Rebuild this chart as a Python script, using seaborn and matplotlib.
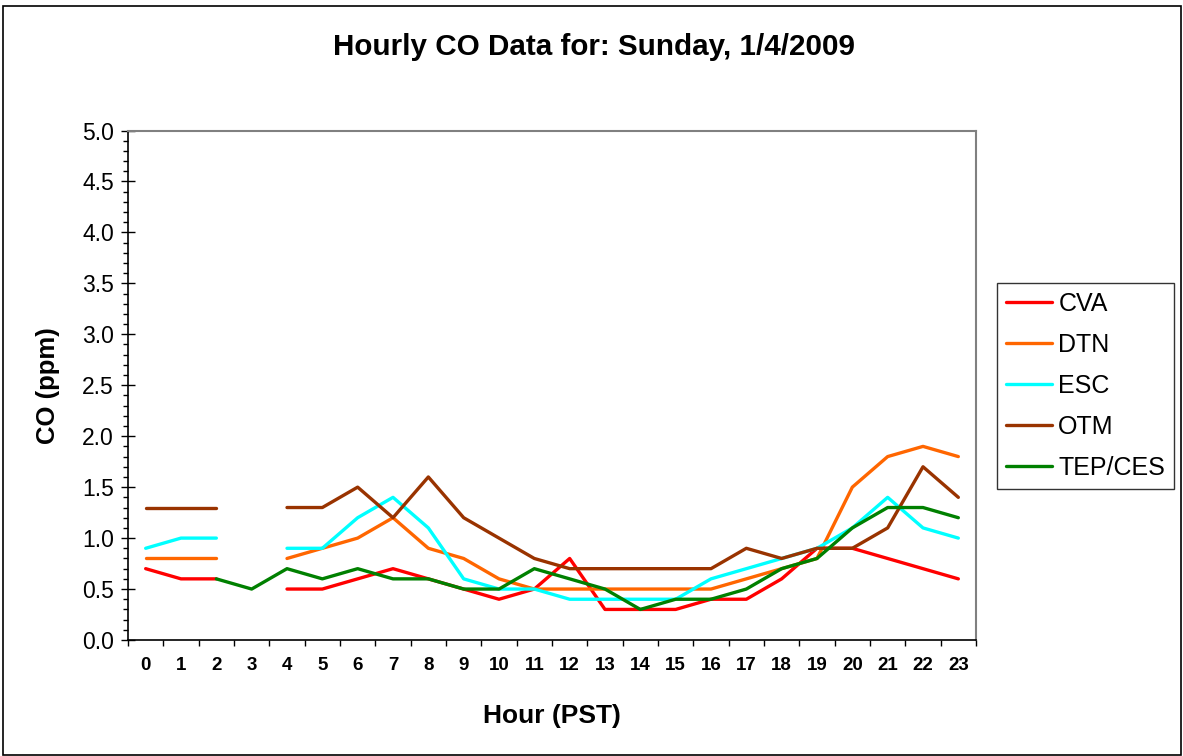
import numpy as np
import pandas as pd
import matplotlib
matplotlib.use("Agg")
import matplotlib.pyplot as plt
from matplotlib.lines import Line2D
from matplotlib.patches import Rectangle
from matplotlib.ticker import MultipleLocator, FixedLocator
import seaborn as sns

# Hourly CO concentrations (ppm); NaN marks a missing hour
hours = list(range(24))
nan = np.nan
cva = [0.7, 0.6, 0.6, nan, 0.5, 0.5, 0.6, 0.7, 0.6, 0.5, 0.4, 0.5,
       0.8, 0.3, 0.3, 0.3, 0.4, 0.4, 0.6, 0.9, 0.9, 0.8, 0.7, 0.6]
dtn = [0.8, 0.8, 0.8, nan, 0.8, 0.9, 1.0, 1.2, 0.9, 0.8, 0.6, 0.5,
       0.5, 0.5, 0.5, 0.5, 0.5, 0.6, 0.7, 0.8, 1.5, 1.8, 1.9, 1.8]
esc = [0.9, 1.0, 1.0, nan, 0.9, 0.9, 1.2, 1.4, 1.1, 0.6, 0.5, 0.5,
       0.4, 0.4, 0.4, 0.4, 0.6, 0.7, 0.8, 0.9, 1.1, 1.4, 1.1, 1.0]
otm = [1.3, 1.3, 1.3, nan, 1.3, 1.3, 1.5, 1.2, 1.6, 1.2, 1.0, 0.8,
       0.7, 0.7, 0.7, 0.7, 0.7, 0.9, 0.8, 0.9, 0.9, 1.1, 1.7, 1.4]
tep = [nan, nan, 0.6, 0.5, 0.7, 0.6, 0.7, 0.6, 0.6, 0.5, 0.5, 0.7,
       0.6, 0.5, 0.3, 0.4, 0.4, 0.5, 0.7, 0.8, 1.1, 1.3, 1.3, 1.2]

stations = ["CVA", "DTN", "ESC", "OTM", "TEP/CES"]
series = [cva, dtn, esc, otm, tep]
colors = ["#FF0000", "#FF6600", "#00FFFF", "#993300", "#008000"]

sns.set_style("white")
plt.rcParams["font.family"] = ["Liberation Sans", "DejaVu Sans"]
plt.rcParams["text.color"] = "black"
plt.rcParams["axes.labelcolor"] = "black"
plt.rcParams["xtick.color"] = "black"
plt.rcParams["ytick.color"] = "black"

fig = plt.figure(figsize=(11.83, 7.56), dpi=100)
ax = fig.add_axes([128 / 1183, (756 - 640) / 756, (976 - 128) / 1183, (640 - 130.5) / 756])

for name, vals, col in zip(stations, series, colors):
    df = pd.DataFrame({"hour": hours, "co": vals})
    # draw each unbroken run separately so missing hours leave a gap
    valid = df["co"].notna()
    run_id = (~valid).cumsum()
    for _, seg in df[valid].groupby(run_id[valid]):
        if len(seg) < 2:
            continue
        sns.lineplot(data=seg, x="hour", y="co", ax=ax, color=col,
                     linewidth=2.4, estimator=None, sort=False, legend=False)

ax.set_xlim(-0.5, 23.5)
ax.set_ylim(0, 5)

# category-style x axis: labels at hours, tick marks between them
ax.xaxis.set_major_locator(FixedLocator(hours))
ax.set_xticklabels([str(h) for h in hours], fontsize=13.5, fontweight="bold")
ax.xaxis.set_minor_locator(FixedLocator(np.arange(-0.5, 24, 1.0)))
ax.tick_params(axis="x", which="major", length=0, pad=12)
ax.tick_params(axis="x", which="minor", direction="out", length=4.5,
               width=1, color="black", bottom=True)

ax.yaxis.set_major_locator(MultipleLocator(0.5))
ax.yaxis.set_minor_locator(MultipleLocator(0.1))
ax.set_yticklabels([f"{v:.1f}" for v in ax.get_yticks()])
ax.tick_params(axis="y", which="major", direction="inout", length=10,
               width=1, color="black", labelsize=16.5, left=True, pad=5)
ax.tick_params(axis="y", which="minor", direction="out", length=3.5,
               width=1, color="black", left=True)

for side in ["left", "bottom"]:
    ax.spines[side].set_color("black")
    ax.spines[side].set_linewidth(1.2)
for side in ["top", "right"]:
    ax.spines[side].set_color("#808080")
    ax.spines[side].set_linewidth(1.5)

ax.set_xlabel("Hour (PST)", fontsize=19, fontweight="bold", labelpad=22)
ax.set_ylabel("CO (ppm)", fontsize=18.5, fontweight="bold", labelpad=16)

fig.text(594 / 1183, 1 - 47 / 756, "Hourly CO Data for: Sunday, 1/4/2009",
         ha="center", va="center", fontsize=21.3, fontweight="bold")

handles = [Line2D([0], [0], color=c, linewidth=2.4) for c in colors]
leg = fig.legend(handles, stations, loc="upper left",
                 bbox_to_anchor=(997 / 1183, 1 - 283 / 756),
                 bbox_transform=fig.transFigure, borderaxespad=0,
                 fontsize=18, handlelength=1.85, handletextpad=0.25,
                 labelspacing=0.68, borderpad=0.35, fancybox=False,
                 frameon=True, edgecolor="black")
leg.get_frame().set_linewidth(1.0)

fig.patches.append(Rectangle((3 / 1183, 1 - 755 / 756), 1178 / 1183, 749 / 756,
                             transform=fig.transFigure, fill=False,
                             edgecolor="black", linewidth=1.2))

fig.savefig("out.png", dpi=100)
